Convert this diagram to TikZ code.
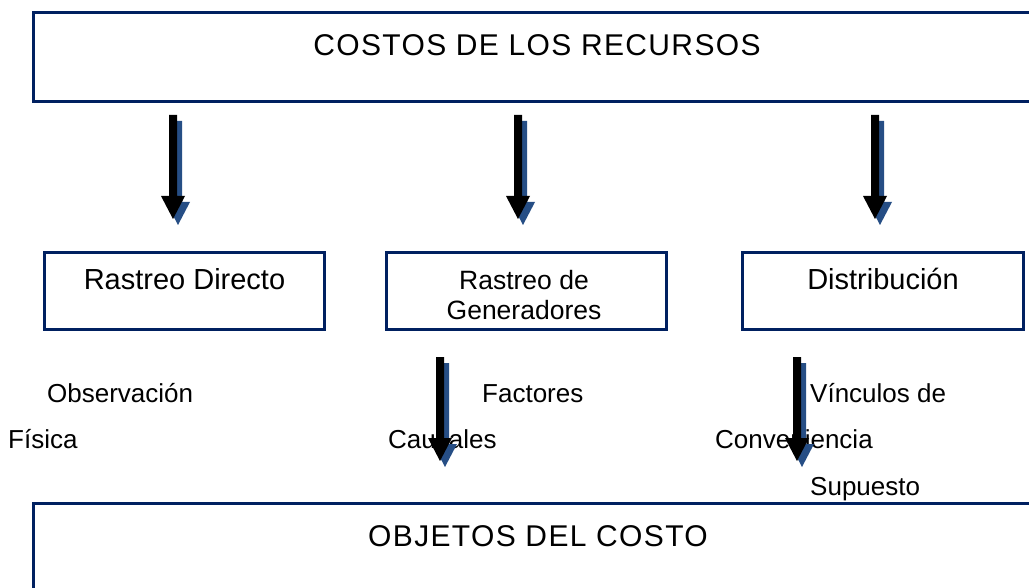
\documentclass[tikz,border=0pt]{standalone}
\usepackage{fontspec}
\setmainfont{Liberation Sans}
\newfontfamily\spacedfont[LetterSpace=4.5]{Liberation Sans}
\usetikzlibrary{calc}

\definecolor{boxnavy}{RGB}{0,32,96}
\definecolor{shadeblue}{RGB}{38,78,133}

\tikzset{
  costbox/.style={draw=boxnavy, line width=3pt},
  titletext/.style={anchor=base, font=\spacedfont\fontsize{30}{34}\selectfont},
  boxtext/.style={anchor=base, font=\fontsize{29}{33}\selectfont},
  freetext/.style={anchor=base west, inner sep=0pt, font=\fontsize{26}{30}\selectfont}
}

% block arrow with its blue shadow, #1 = top coordinate
\newcommand{\costarrow}[1]{%
  \begin{scope}[shift={(#1)}]
    \fill[shadeblue] (1,6) -- (9,6) -- (9,87) -- (17,87) -- (5,110) -- (-7,87) -- (1,87) -- cycle;
    \fill[black] (-4,0) -- (4,0) -- (4,81) -- (12,81) -- (0,104) -- (-12,81) -- (-4,81) -- cycle;
  \end{scope}}

\begin{document}
\begin{tikzpicture}[x=1pt, y=-1pt]
\useasboundingbox (0,0) rectangle (1029,588);
\fill[white] (0,0) rectangle (1029,588);

% main boxes
\draw[costbox] (33.5,12.5) rectangle (1045,101.5);
\node[titletext] (recursos) at (537,56) {COSTOS DE LOS RECURSOS};
\draw[costbox] (33.5,503.5) rectangle (1045,600);
\node[titletext] (objetos) at (538,546) {OBJETOS DEL COSTO};

% the three ways
\draw[costbox] (44.5,252.5) rectangle (324.5,329.5);
\node[boxtext] (directo) at (184.5,290) {Rastreo Directo};
\draw[costbox] (386.5,252.5) rectangle (666.5,329.5);
\node[anchor=center, inner sep=0pt, align=center, font=\fontsize{26.5}{30}\selectfont] (generadores) at (524,295) {Rastreo de\\Generadores};
\draw[costbox] (742.5,252.5) rectangle (1023.5,329.5);
\node[boxtext] (distribucion) at (883,290) {Distribución};

% texts between
\node[freetext] (observacion) at (47,402) {Observación};
\node[freetext] (fisica) at (8,448) {Física};
\node[freetext] (factores) at (482,402) {Factores};
\node[freetext] (causales) at (388,448) {Causales};
\node[freetext] (vinculos) at (810,402) {Vínculos de};
\node[freetext] (conveniencia) at (715,448) {Conveniencia};
\node[freetext] (supuesto) at (810,495) {Supuesto};

% arrows
\coordinate (a1) at (173,115);
\coordinate (a2) at (518,115);
\coordinate (a3) at (875,115);
\coordinate (a4) at (440,357);
\coordinate (a5) at (797,357);
\costarrow{a1}
\costarrow{a2}
\costarrow{a3}
\costarrow{a4}
\costarrow{a5}
\end{tikzpicture}
\end{document}
